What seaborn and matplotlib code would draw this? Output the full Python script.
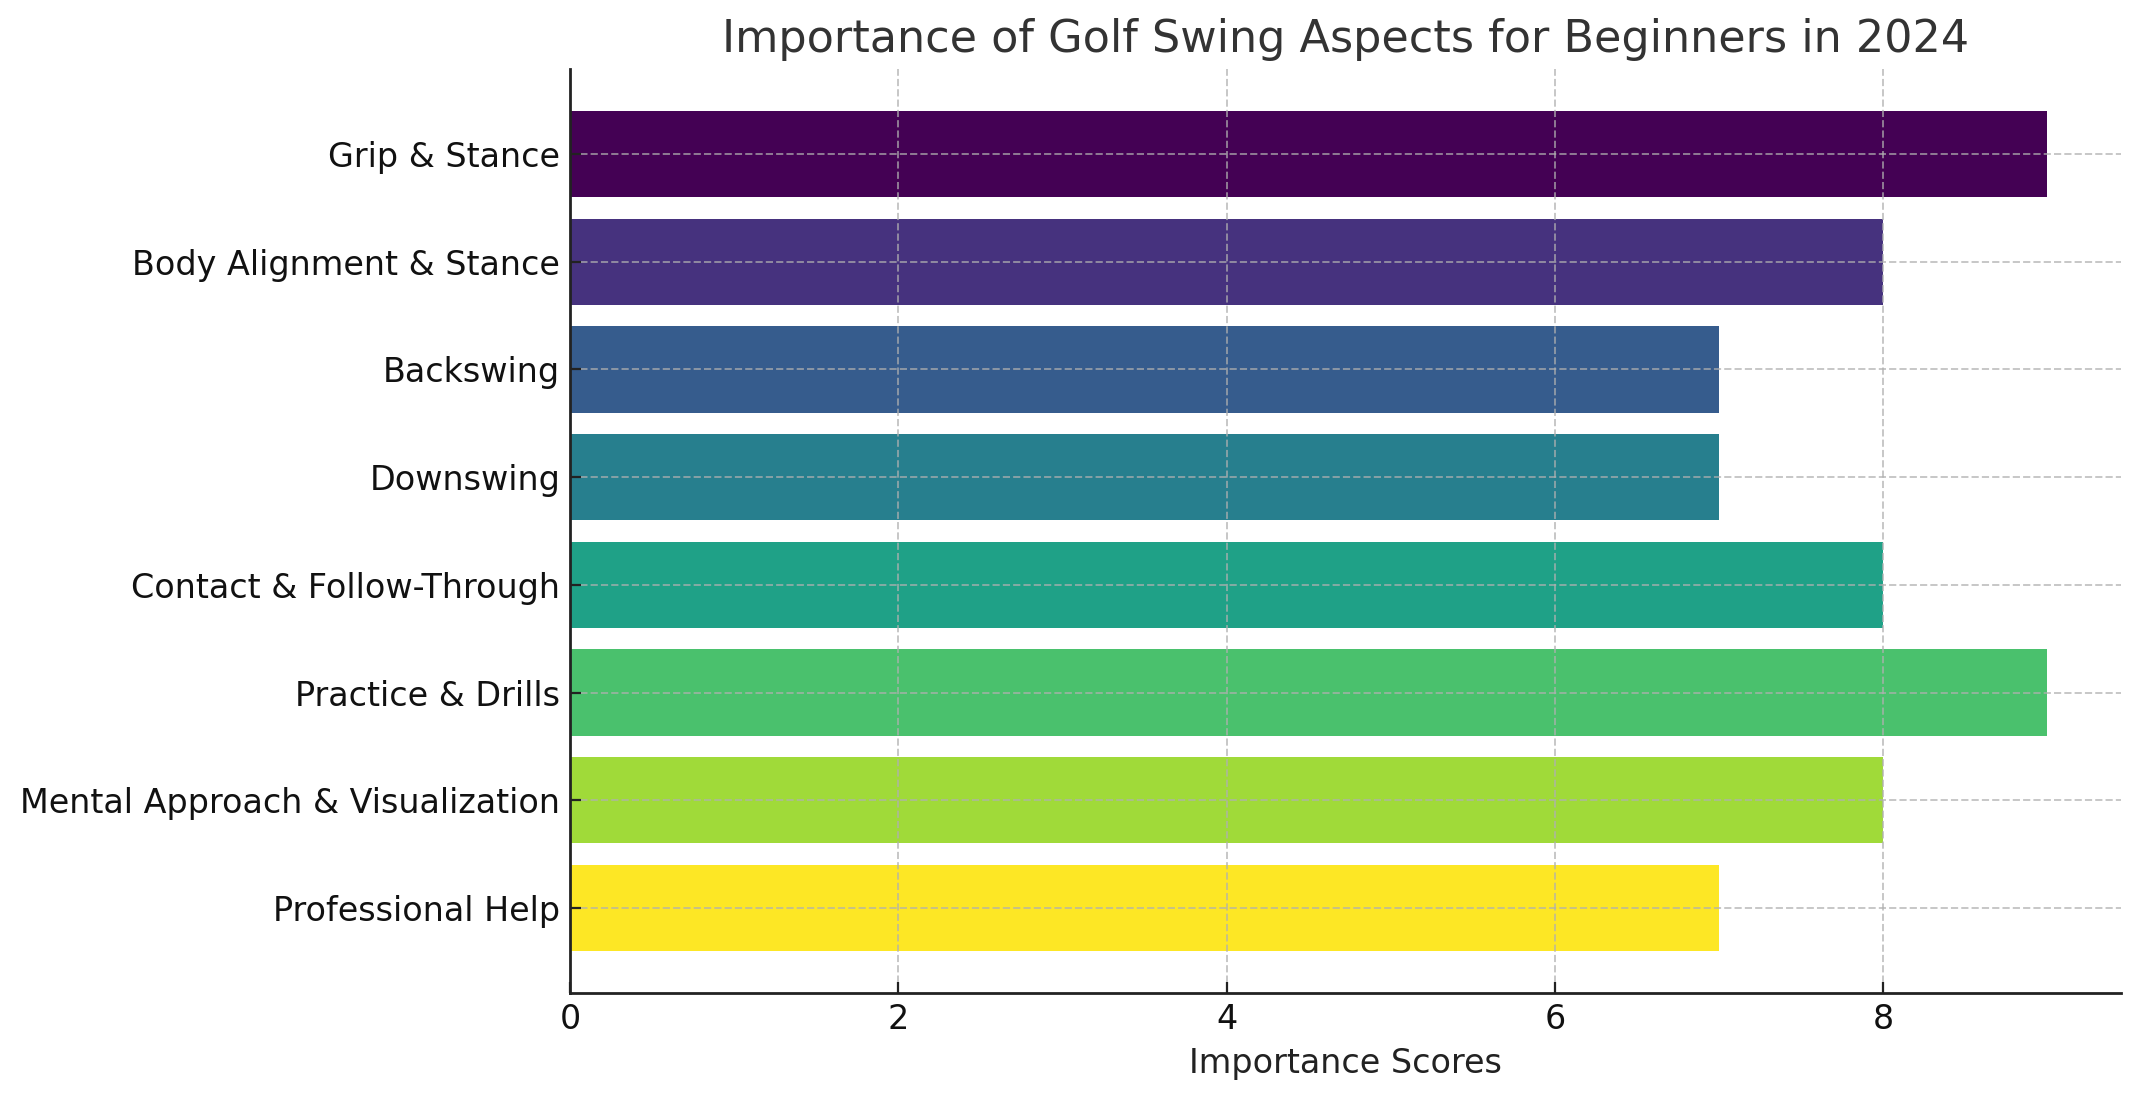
import matplotlib
matplotlib.use('Agg')
import matplotlib.pyplot as plt
import seaborn as sns
import numpy as np
import pandas as pd

aspects = [
    "Grip & Stance",
    "Body Alignment & Stance",
    "Backswing",
    "Downswing",
    "Contact & Follow-Through",
    "Practice & Drills",
    "Mental Approach & Visualization",
    "Professional Help",
]
scores = [9, 8, 7, 7, 8, 9, 8, 7]

df = pd.DataFrame({"Aspect": aspects, "Score": scores})
colors = sns.color_palette("viridis", as_cmap=True)(np.linspace(0, 1, len(aspects)))

sns.set_style("ticks")
plt.rcParams['font.family'] = ['DejaVu Sans']

fig, ax = plt.subplots(figsize=(10.695, 5.505), dpi=200)
sns.barplot(data=df, x="Score", y="Aspect", hue="Aspect", palette=list(colors),
            saturation=1, legend=False, width=0.8, orient='h', ax=ax, linewidth=0)

n = len(aspects)
ax.set_ylim(n - 0.5 + 0.29, -0.79)
ax.set_xlim(0, 9 * 1.05)
ax.set_xticks([0, 2, 4, 6, 8])

ax.grid(True, axis='both', linestyle='--', color='#b0b0b0', alpha=0.7, linewidth=0.7)
ax.set_axisbelow(False)

ax.set_title("Importance of Golf Swing Aspects for Beginners in 2024", fontsize=16, color='#333333')
ax.set_xlabel("Importance Scores", fontsize=12, color='#222222')
ax.set_ylabel("")
ax.tick_params(axis='both', direction='in', labelsize=12, colors='#222222', length=4)
for lbl in ax.get_xticklabels() + ax.get_yticklabels():
    lbl.set_color('#111111')
for s in ['left', 'bottom']:
    ax.spines[s].set_linewidth(1.0)
    ax.spines[s].set_color('#222222')
    ax.spines[s].set_zorder(10)
sns.despine(ax=ax, top=True, right=True)

fig.subplots_adjust(left=570 / 2139, right=2121 / 2139, top=1 - 69 / 1101, bottom=1 - 993 / 1101)
fig.savefig("out.png", dpi=200)
